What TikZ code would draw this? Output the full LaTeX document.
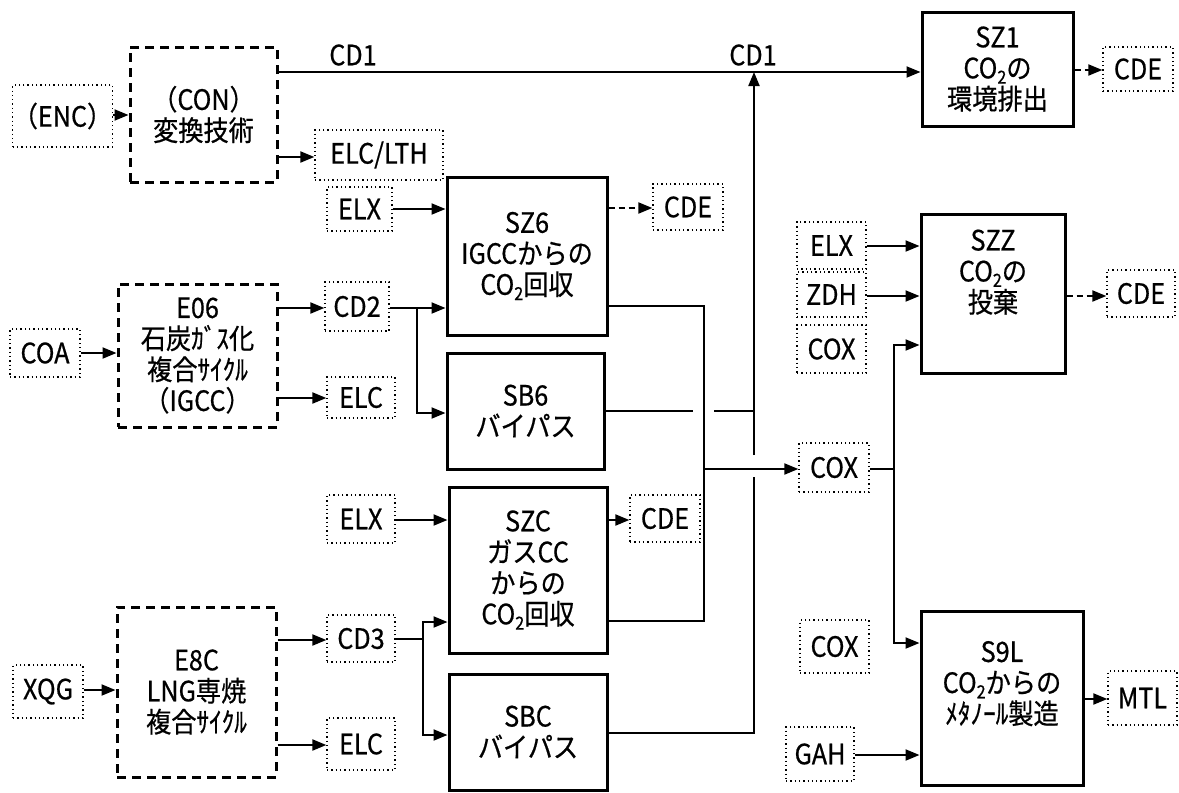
\documentclass[tikz,border=0pt]{standalone}
\usepackage{fontspec}
\setmainfont{Noto Sans CJK JP}[FakeStretch=0.9, FakeBold=0.6]
\usetikzlibrary{arrows.meta}
\newcommand\cotwo{CO\raisebox{-0.35ex}{\fontsize{18}{18}\selectfont 2}}
\begin{document}
\begin{tikzpicture}[x=1pt,y=-1pt,
  every node/.style={font=\fontsize{28}{31}\selectfont, inner sep=0pt, align=center},
  dotbox/.style={draw, line width=1.3pt, dash pattern=on 1.3pt off 3pt},
  dashbox/.style={draw, line width=3pt, dash pattern=on 9pt off 6pt},
  solidbox/.style={draw, line width=3pt},
  wire/.style={line width=2pt},
  arr/.style={wire, -{Triangle[length=14pt,width=11pt]}},
  darr/.style={arr, dash pattern=on 6pt off 4pt},
]
\useasboundingbox (0,0) rectangle (1179,793);

% ---- top row
\node[dotbox, minimum width=95, minimum height=62] (ENC) at (62.5,116) {（ENC）};
\node[dashbox, minimum width=147, minimum height=135] (CON) at (203.5,114.5) {（CON）\\変換技術};
\node[dotbox, minimum width=128, minimum height=50] (ELCLTH) at (379,155) {ELC/LTH};
\node[solidbox, minimum width=151, minimum height=114] (SZ1) at (997.5,69) {SZ1\\\cotwo の\\環境排出};
\node[dotbox, minimum width=70, minimum height=44] (CDE1) at (1138,69) {CDE};
\node (cd1a) at (353,55) {CD1};
\node (cd1b) at (753,55) {CD1};

% ---- IGCC group
\node[dotbox, minimum width=65, minimum height=44] (ELX1) at (359.5,209) {ELX};
\node[solidbox, minimum width=160, minimum height=158] (SZ6) at (527,256) {SZ6\\IGCCからの\\\cotwo 回収};
\node[dotbox, minimum width=70, minimum height=46] (CDE6) at (688,207) {CDE};
\node[dotbox, minimum width=70, minimum height=48] (COA) at (45,353) {COA};
\node[dashbox, minimum width=159, minimum height=143] (E06) at (197.5,355.5) {E06\\石炭ｶﾞｽ化\\複合ｻｲｸﾙ\\（IGCC）};
\node[dotbox, minimum width=64, minimum height=49] (CD2) at (357,306.5) {CD2};
\node[dotbox, minimum width=68, minimum height=41] (ELC2) at (361,397.5) {ELC};
\node[solidbox, minimum width=157, minimum height=116] (SB6) at (525.5,411) {SB6\\バイパス};

% ---- LNG group
\node[dotbox, minimum width=68, minimum height=48] (ELX3) at (361,519) {ELX};
\node[solidbox, minimum width=158, minimum height=166] (SZC) at (528,570) {SZC\\ガスCC\\からの\\\cotwo 回収};
\node[dotbox, minimum width=70, minimum height=47] (CDEC) at (665,518.5) {CDE};
\node[dotbox, minimum width=70, minimum height=53] (XQG) at (48,691.5) {XQG};
\node[dashbox, minimum width=159, minimum height=170] (E8C) at (196.5,692) {E8C\\LNG専焼\\複合ｻｲｸﾙ};
\node[dotbox, minimum width=68, minimum height=47] (CD3) at (361,638.5) {CD3};
\node[dotbox, minimum width=68, minimum height=52] (ELC3) at (361,744) {ELC};
\node[solidbox, minimum width=158, minimum height=116] (SBC) at (528,732) {SBC\\バイパス};

% ---- right side
\node[dotbox, minimum width=70, minimum height=49] (COXm) at (834,467.5) {COX};
\node[dotbox, minimum width=69, minimum height=47] (ELXz) at (831.5,245.5) {ELX};
\node[dotbox, minimum width=69, minimum height=45] (ZDH) at (831.5,294.5) {ZDH};
\node[dotbox, minimum width=69, minimum height=48] (COXz) at (831.5,349) {COX};
\node[solidbox, minimum width=144, minimum height=159] (SZZ) at (993,293.5) {SZZ\\\cotwo の\\投棄\\[14pt]};
\node[dotbox, minimum width=68, minimum height=47] (CDEz) at (1141,293.5) {CDE};
\node[dotbox, minimum width=69, minimum height=53] (COXl) at (834.5,646.5) {COX};
\node[dotbox, minimum width=68, minimum height=54] (GAH) at (820,754) {GAH};
\node[solidbox, minimum width=162, minimum height=174] (S9L) at (1002,698) {S9L\\\cotwo からの\\ﾒﾀﾉｰﾙ製造\\[0pt]};
\node[dotbox, minimum width=69, minimum height=54] (MTL) at (1142.5,698) {MTL};

% ---- connectors top
\draw[arr] (ENC.east |- 0,115) -- (CON.west |- 0,115);
\draw[arr] (CON.east |- 0,72) -- (SZ1.west |- 0,72);
\draw[arr] (CON.east |- 0,157) -- (ELCLTH.west |- 0,157);
\draw[darr] (SZ1.east |- 0,70) -- (CDE1.west |- 0,70);

% ---- IGCC connectors
\draw[arr] (ELX1.east |- 0,209) -- (SZ6.west |- 0,209);
\draw[darr] (SZ6.east |- 0,208) -- (CDE6.west |- 0,208);
\draw[arr] (COA.east |- 0,353) -- (E06.west |- 0,353);
\draw[arr] (E06.east |- 0,308) -- (CD2.west |- 0,308);
\draw[arr] (E06.east |- 0,398) -- (ELC2.west |- 0,398);
\draw[arr] (CD2.east |- 0,308) -- (SZ6.west |- 0,308);
\draw[arr] (417,308) |- (SB6.west |- 0,413);

% collector from SZ6 and SZC
\coordinate (col) at (704,469);
\draw[wire] (SZ6.east |- 0,306) -| (col) |- (SZC.east |- 0,621);
\draw[arr] (col) -- (COXm.west |- col);

% SB6 output with line hop over collector
\coordinate (up) at (754,72);
\draw[wire] (SB6.east |- 0,411) -- (693,411);
\draw[wire] (714,411) -- (up |- 0,411);

% vertical riser from SBC to CD1, hopping over COX line
\draw[wire] (SBC.east |- 0,733) -| (754,477);
\draw[arr] (754,455) -- (up);

% ---- LNG connectors
\draw[arr] (XQG.east |- 0,690) -- (E8C.west |- 0,690);
\draw[arr] (E8C.east |- 0,640) -- (CD3.west |- 0,640);
\draw[arr] (E8C.east |- 0,745) -- (ELC3.west |- 0,745);
\draw[arr] (ELX3.east |- 0,520) -- (SZC.west |- 0,520);
\draw[arr] (SZC.east |- 0,520) -- (CDEC.west |- 0,520);
\draw[wire] (CD3.east |- 0,639) -- (423,639);
\draw[arr] (423,639) |- (SZC.west |- 0,622);
\draw[arr] (423,639) |- (SBC.west |- 0,735);

% ---- right side connectors
\draw[wire] (COXm.east |- 0,469) -- (894,469);
\draw[arr] (894,469) |- (SZZ.west |- 0,345);
\draw[arr] (894,469) |- (S9L.west |- 0,643);
\draw[arr] (ELXz.east |- 0,246) -- (SZZ.west |- 0,246);
\draw[arr] (ZDH.east |- 0,296) -- (SZZ.west |- 0,296);
\draw[darr] (SZZ.east |- 0,296) -- (CDEz.west |- 0,296);
\draw[arr] (GAH.east |- 0,755) -- (S9L.west |- 0,755);
\draw[arr] (S9L.east |- 0,699) -- (MTL.west |- 0,699);
\end{tikzpicture}
\end{document}
